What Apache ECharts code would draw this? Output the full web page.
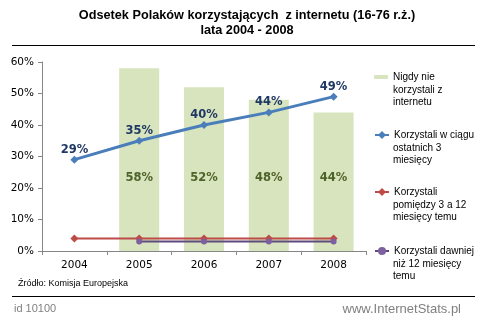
<!DOCTYPE html>
<html><head><meta charset="utf-8">
<script src="https://cdn.jsdelivr.net/npm/echarts@6/dist/echarts.min.js"></script>
<style>html,body{margin:0;padding:0;background:#fff}#c{width:484px;height:321px}</style>
</head><body><div id="c"></div>
<script>
const years = ['2004','2005','2006','2007','2008'];
const never = [null, 58, 52, 48, 44];
const last3m = [29, 35, 40, 44, 49];
const between3and12 = [4, 4, 4, 4, 4];
const over12 = [null, 3, 3, 3, 3];
const yTicks = [0, 10, 20, 30, 40, 50, 60];
const names = ['Nigdy nie\nkorzystali z\ninternetu','Korzystali w ciągu\nostatnich 3\nmiesięcy','Korzystali\npomiędzy 3 a 12\nmiesięcy temu','Korzystali dawniej\nniż 12 miesięcy\ntemu'];

const FONT = 'DejaVu Sans';
const LFONT = 'Liberation Sans';
const chart = echarts.init(document.getElementById('c'), null, {renderer:'canvas'});
const legCenter = [78, 136, 193, 252];
const LH = 12;
const TX = 393;
const legends = names.map((n,i)=>({
  data:[n], left:374, top:legCenter[i]-6, orient:'vertical', padding:0,
  itemWidth:14, itemHeight: i===0 ? 4 : 10, itemGap:0,
  formatter: s => s.split('\n')[0],
  textStyle:{fontFamily:LFONT, fontSize:10, color:'#000'},
  selectedMode:false
}));
const legendRest = names.map((n,i)=>({
  type:'text', silent:true,
  style:{x:TX, y:legCenter[i]+LH-LH/2, text:n.split('\n').slice(1).join('\n'),
    font:'10px "Liberation Sans"', fill:'#000', lineHeight:LH, verticalAlign:'top', align:'left'}
}));
chart.setOption({
  animation:false,
  textStyle:{fontFamily:FONT},
  grid:{left:42, right:118, top:62, bottom:70},
  legend: legends,
  xAxis:{type:'category', data:years,
    axisLine:{lineStyle:{color:'#868686'}},
    axisTick:{show:true, length:4, lineStyle:{color:'#868686'}},
    axisLabel:{color:'#000', fontSize:10.5, fontFamily:FONT, margin:9}},
  yAxis:{type:'value', min:0, max:60, interval:10,
    axisLine:{show:true, lineStyle:{color:'#868686'}},
    axisTick:{show:true, length:4, lineStyle:{color:'#868686'}},
    splitLine:{show:false},
    axisLabel:{color:'#000', fontSize:10.5, fontFamily:FONT, margin:8, formatter:v=>yTicks.includes(v)?v+'%':''}},
  series:[
    {name:names[0], type:'bar', data:never, barWidth:40,
      itemStyle:{color:'#d7e4bd'},
      label:{show:true, position:'insideBottom', distance:67, formatter:'{c}%', color:'#4f6228', fontWeight:'bold', fontSize:11.5, fontFamily:FONT}},
    {name:names[1], type:'line', data:last3m, symbol:'diamond', symbolSize:8,
      lineStyle:{color:'#4a7ebb', width:3}, itemStyle:{color:'#4a7ebb'},
      label:{show:true, position:'top', distance:0, formatter:'{c}%', color:'#1f3864', fontWeight:'bold', fontSize:11.5, fontFamily:FONT}},
    {name:names[2], type:'line', data:between3and12, symbol:'diamond', symbolSize:8,
      lineStyle:{color:'#be4b48', width:2}, itemStyle:{color:'#be4b48'}},
    {name:names[3], type:'line', data:over12, symbol:'circle', symbolSize:6,
      lineStyle:{color:'#604a7b', width:2}, itemStyle:{color:'#7d60a0'}}
  ],
  graphic:[
    {type:'text', silent:true, style:{x:247, y:8, text:'Odsetek Polaków korzystających  z internetu (16-76 r.ż.)\nlata 2004 - 2008', align:'center', verticalAlign:'top', font:'bold 12.7px "Liberation Sans"', fill:'#000', lineHeight:15}},
    {type:'line', silent:true, shape:{x1:12,y1:45.5,x2:475,y2:45.5}, style:{stroke:'#000', lineWidth:1}},
    {type:'text', silent:true, style:{x:18, y:284, text:'Źródło: Komisja Europejska', font:'9px "Liberation Sans"', fill:'#000', verticalAlign:'middle'}},
    {type:'line', silent:true, shape:{x1:12,y1:296.5,x2:475,y2:296.5}, style:{stroke:'#000', lineWidth:1}},
    {type:'text', silent:true, style:{x:14, y:309, text:'id 10100', font:'11px "Liberation Sans"', fill:'#7f7f7f', verticalAlign:'middle'}},
    {type:'text', silent:true, style:{x:461, y:309, text:'www.InternetStats.pl', font:'13px "Liberation Sans"', fill:'#7f7f7f', align:'right', verticalAlign:'middle'}}
  ].concat(legendRest)
});
</script></body></html>
